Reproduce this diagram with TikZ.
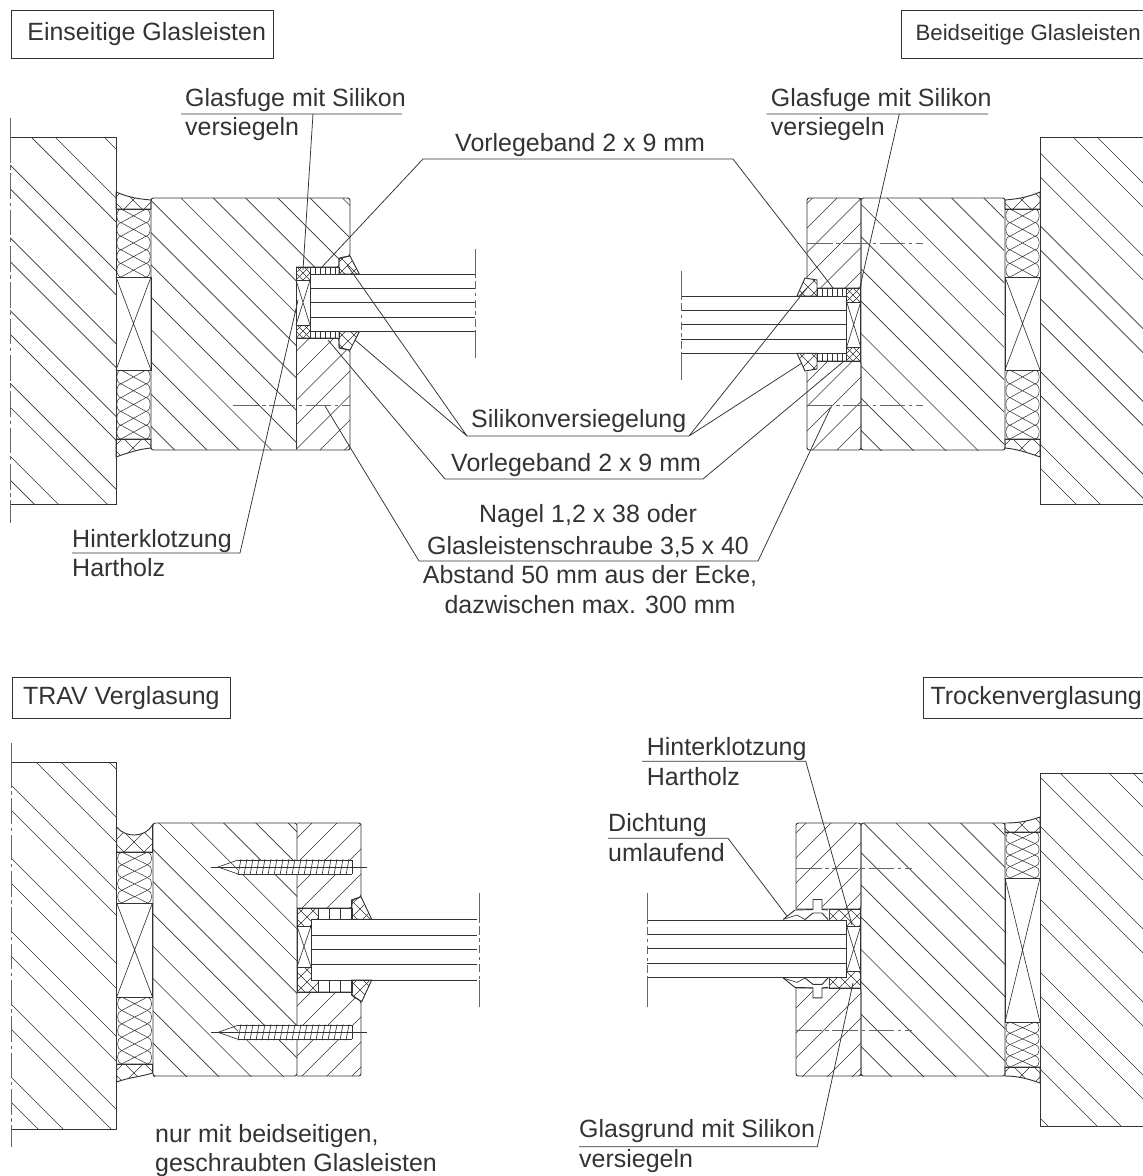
\documentclass[tikz,border=0pt]{standalone}
\usepackage{fontspec}
\setmainfont{Liberation Sans}
\definecolor{inkgray}{HTML}{333333}
\tikzset{
  wood/.style = {line width=0.8pt, draw=inkgray},
  hatchln/.style = {line width=0.55pt, draw=inkgray},
  ropeln/.style = {line width=0.45pt, draw=inkgray},
  axisln/.style = {line width=0.8pt, draw=black!60, dash pattern=on 22pt off 3pt on 3pt off 3pt},
  leader/.style = {line width=0.65pt, draw=inkgray},
  lbl/.style = {anchor=base west, inner sep=0pt, text=inkgray, font=\fontsize{21.3}{24}\selectfont},
  titlebox/.style = {lbl, draw=inkgray, line width=0.8pt, inner xsep=6pt, inner ysep=0pt}
}
% hatching through the point (#2,#3), #4 = distance, clipped by the path #1
\newcommand{\hatchbk}[4]{
  \begin{scope}
    \clip #1;
    \foreach \k in {-25,...,25}
      \draw[hatchln] ({#2-#3+\k*#4},0) -- ++(1300,1300);
  \end{scope}
}
\newcommand{\hatchfw}[4]{
  \begin{scope}
    \clip #1;
    \foreach \k in {-25,...,25}
      \draw[hatchln] ({#2+#3+\k*#4},0) -- ++(-1300,1300);
  \end{scope}
}
\newcommand{\crosspack}[4]{
  \hatchbk{#1}{#2}{#3}{#4}
  \hatchfw{#1}{#2}{#3}{#4}
  \draw[wood] #1;
}
% insulation: x1,x2,y1,y2,number of lobes
\newcommand{\rope}[5]{
  \pgfmathsetmacro{\rh}{(#4-#3)/#5}
  \draw[wood] (#1,#3) -- (#2,#3) (#1,#4) -- (#2,#4);
  \foreach \k in {1,...,#5}{
    \pgfmathsetmacro{\ya}{#3+(\k-1)*\rh}
    \pgfmathsetmacro{\yb}{#3+\k*\rh}
    \draw[ropeln] (#1+5,\ya) .. controls (#1-.5,\ya+.05*\rh) and (#1-.5,\ya+.95*\rh) .. (#1+5,\yb);
    \draw[ropeln] (#2-5,\ya) .. controls (#2+.5,\ya+.05*\rh) and (#2+.5,\ya+.95*\rh) .. (#2-5,\yb);
    \draw[ropeln] (#1+5,\ya) -- (#2-5,\yb) (#2-5,\ya) -- (#1+5,\yb);
  }
}
\newcommand{\xbox}[4]{
  \draw[wood] (#1,#2) rectangle (#3,#4);
  \draw[hatchln] (#1,#2) -- (#3,#4) (#3,#2) -- (#1,#4);
}
\newcommand{\ticks}[5]{
  \draw[wood] (#1,#3) rectangle (#2,#4);
  \foreach \tx in {#5}
    \draw[hatchln] (\tx,#3) -- (\tx,#4);
}
\newcommand{\screw}[1]{
  \fill[white] (238,#1-7) rectangle (352,#1+7);
  \draw[hatchln] (211,#1) -- (367,#1);
  \draw[hatchln] (238,#1-7) -- (218,#1) -- (238,#1+7);
  \draw[hatchln] (238,#1-7) -- (352,#1-7) (238,#1+7) -- (352,#1+7) (352,#1-7) -- (352,#1+7);
  \foreach \tx in {238,244,...,346}
    \draw[hatchln] (\tx,#1+8) -- (\tx+3,#1-8);
}
\begin{document}
\begin{tikzpicture}[x=0.03cm,y=-0.03cm]
	\useasboundingbox (0,0) rectangle (1142,1176);

	% ---- Einseitige Glasleisten ----
	% Frame
	\hatchbk{(10,137) rectangle (116,504)}{116}{149}{72.8}
	\hatchbk{(10,137) rectangle (116,504)}{116}{198}{72.8}
	\draw[wood] (10,137) -- (116,137) -- (116,504) -- (10,504);
	\draw[wood, draw=black!60] (10,118) -- (10,137) (10,504) -- (10,523);
	\draw[axisln] (10,137) -- (10,504);
	% Insulation
	\crosspack{(116,192) .. controls (130,198) and (140,199) .. (151,200) -- (151,209) -- (116,209) -- cycle}{133}{200}{20}
	\crosspack{(116,457) .. controls (130,452) and (140,449) .. (151,448) -- (151,439) -- (116,439) -- cycle}{133}{448}{20}
	\rope{116}{151}{209}{277}{5}
	\rope{116}{151}{370}{439}{5}
	\xbox{116}{277}{151}{370}
	% Sash and bead
	\hatchbk{(151,198) -- (350,198) -- (350,257) -- (339,258) -- (339,267) -- (296,267) -- (296,450) -- (151,450) -- cycle}{200}{217}{32.3}
	\hatchfw{(296,338) -- (339,338) -- (339,348) -- (350,350) -- (350,450) -- (296,450) -- cycle}{296}{376}{24.5}
	\draw[wood, rounded corners=2] (296,267) -- (339,267) -- (339,258) -- (350,256) -- (350,198) -- (151,198) -- (151,450) -- (296,450) -- (350,450) -- (350,350) -- (339,348) -- (339,338) -- (296,338);
	\draw[wood] (296,267) -- (296,449);
	\draw[axisln] (233,405) -- (350,405);
	% Glass
	\foreach \gy in {274,288.3,302.7,317.3,331.7}
		\draw[wood] (310,\gy) -- (475,\gy);
	\draw[wood, draw=black!60] (310,274) -- (310,331.7);
	\draw[wood, draw=black!60] (475,249) -- (475,274) (475,331.7) -- (475,358);
	\draw[wood, draw=black!60, dash pattern=on 3pt off 3pt on 7pt off 3pt] (475,274) -- (475,331.7);
	% Rebate
	\xbox{296}{280}{310}{325}
	\crosspack{(296,267) rectangle (310,280)}{303}{273}{7}
	\crosspack{(296,325) rectangle (310,338)}{303}{331}{7}
	\ticks{310}{339}{267}{274}{315,320,...,335}
	\ticks{310}{339}{331.7}{338}{315,320,...,335}
	\crosspack{(339,258.3) -- (350,256) -- (359.3,274) -- (339,274) -- cycle}{348}{265}{12}
	\crosspack{(339,331.7) -- (359.3,331.7) -- (350,350) -- (339,348) -- cycle}{348}{341}{12}

	% ---- Beidseitige Glasleisten ----
	\hatchbk{(1040,137) rectangle (1145,504)}{1097}{137}{72.8}
	\hatchbk{(1040,137) rectangle (1145,504)}{1073}{137}{72.8}
	\draw[wood] (1145,137) -- (1040,137) -- (1040,504) -- (1145,504);
	\crosspack{(1040,192) .. controls (1026,198) and (1016,199) .. (1005,200) -- (1005,209) -- (1040,209) -- cycle}{1022}{200}{20}
	\crosspack{(1040,457) .. controls (1026,452) and (1016,449) .. (1005,448) -- (1005,439) -- (1040,439) -- cycle}{1022}{448}{20}
	\rope{1005}{1040}{209}{277}{5}
	\rope{1005}{1040}{370}{439}{5}
	\xbox{1005}{277}{1040}{370}
	\hatchbk{(861,198) rectangle (1004,450)}{887}{198}{32.3}
	\hatchfw{(807,198) -- (861,198) -- (861,288) -- (817,288) -- (817,280) -- (807,278) -- cycle}{837}{198}{24.5}
	\hatchfw{(807,372) -- (817,369) -- (817,361) -- (861,361) -- (861,450) -- (807,450) -- cycle}{837}{450}{24.5}
	\draw[wood, rounded corners=2] (807,278) -- (807,198) -- (861,198) -- (861,288) -- (817,288);
	\draw[wood, rounded corners=2] (807,372) -- (807,450) -- (861,450) -- (861,361) -- (817,361);
	\draw[wood, rounded corners=2] (861,198) rectangle (1005,450);
	\draw[axisln] (807,243) -- (923,243);
	\draw[axisln] (807,405) -- (923,405);
	\foreach \gy in {296,310.3,324.7,339,353.3}
		\draw[wood] (681,\gy) -- (846.7,\gy);
	\draw[wood, draw=black!60] (846.7,296) -- (846.7,353.3);
	\draw[wood, draw=black!60] (681,271) -- (681,296) (681,353.3) -- (681,380);
	\draw[wood, draw=black!60, dash pattern=on 3pt off 3pt on 7pt off 3pt] (681,296) -- (681,353.3);
	\xbox{846.7}{302}{860.7}{347}
	\crosspack{(846.7,288) rectangle (860.7,302)}{853}{295}{7}
	\crosspack{(846.7,347) rectangle (860.7,361)}{853}{354}{7}
	\ticks{817}{846.7}{288}{296}{822,827,...,842}
	\ticks{817}{846.7}{353.3}{361}{822,827,...,842}
	\crosspack{(797,296) -- (805,278) -- (817,280) -- (817,296) -- cycle}{808}{287}{12}
	\crosspack{(797,353.3) -- (817,353.3) -- (817,369) -- (805,371) -- cycle}{808}{362}{12}

	% ---- TRAV Verglasung ----
	\hatchbk{(11,762) rectangle (116.7,1129)}{61}{762}{73}
	\hatchbk{(11,762) rectangle (116.7,1129)}{36}{762}{73}
	\draw[wood] (11,762) -- (116.7,762) -- (116.7,1129) -- (11,1129);
	\draw[wood, draw=black!60] (11,743) -- (11,762) (11,1129) -- (11,1147);
	\draw[axisln] (11,762) -- (11,1129);
	\crosspack{(116.7,827) .. controls (125,838) and (145,838) .. (152.5,825) -- (152.5,852) -- (116.7,852) -- cycle}{134}{842}{20}
	\crosspack{(116.7,1082) .. controls (130,1077) and (140,1077) .. (152.5,1073) -- (152.5,1064) -- (116.7,1064) -- cycle}{134}{1073}{20}
	\rope{116.7}{152.5}{852}{903}{4}
	\rope{116.7}{152.5}{997}{1064}{5}
	\xbox{116.7}{903}{152.5}{997}
	\hatchbk{(153,823) rectangle (297,1076)}{159}{823}{32.3}
	\hatchfw{(297,823) -- (361,823) -- (361,897) -- (352,900) -- (352,908) -- (297,908) -- cycle}{297}{838}{25}
	\hatchfw{(297,992) -- (352,992) -- (352,996) -- (361,1001) -- (361,1076) -- (297,1076) -- cycle}{297}{1006}{25}
	\draw[wood, rounded corners=2] (153,823) rectangle (297,1076);
	\draw[wood, rounded corners=2] (297,908) -- (352,908) -- (352,900) -- (361,897) -- (361,823) -- (297,823) (297,1076) -- (361,1076) -- (361,1001) -- (352,996) -- (352,992) -- (297,992);
	\screw{867}
	\screw{1032.3}
	\foreach \gy in {919.3,935.3,949.3,964.3,980}
		\draw[wood] (311,\gy) -- (477,\gy);
	\draw[wood] (311,919.3) -- (311,980);
	\draw[wood, draw=black!60] (479,893) -- (479,919.3) (479,980) -- (479,1007);
	\draw[wood, draw=black!60, dash pattern=on 3pt off 3pt on 7pt off 3pt] (479,919.3) -- (479,980);
	\xbox{297}{926}{311}{967}
	\crosspack{(297,908) -- (318,908) -- (318,919.3) -- (311,919.3) -- (311,926) -- (297,926) -- cycle}{307}{917}{12}
	\crosspack{(297,967) -- (311,967) -- (311,980) -- (318,980) -- (318,992) -- (297,992) -- cycle}{307}{982}{12}
	\ticks{318}{352}{908}{919.3}{329,340}
	\ticks{318}{352}{980}{992}{329,340}
	\crosspack{(351.7,900) -- (361,896.7) -- (371.7,919.3) -- (351.7,919.3) -- cycle}{360}{909}{13}
	\crosspack{(351.7,980) -- (371.7,980) -- (361.7,1001.7) -- (351.7,995) -- cycle}{360}{990}{13}

	% ---- Trockenverglasung ----
	\hatchbk{(1040,773.3) rectangle (1145,1126.7)}{1109.3}{773.3}{73}
	\hatchbk{(1040,773.3) rectangle (1145,1126.7)}{1133.3}{773.3}{73}
	\draw[wood] (1145,773.3) -- (1040,773.3) -- (1040,1126.7) -- (1145,1126.7);
	\crosspack{(1040,817) .. controls (1026,822) and (1016,823) .. (1005,823) -- (1005,832) -- (1040,832) -- cycle}{1022}{825}{20}
	\crosspack{(1040,1083) .. controls (1026,1078) and (1016,1076) .. (1005,1076) -- (1005,1067) -- (1040,1067) -- cycle}{1022}{1075}{20}
	\rope{1005}{1040}{832}{878}{4}
	\rope{1005}{1040}{1022}{1067}{4}
	\xbox{1005}{878}{1040}{1022}
	\hatchbk{(861,823) rectangle (1005,1076)}{896}{823}{32.3}
	\hatchfw{(796,823) -- (861,823) -- (861,909) -- (796,909) -- cycle}{796}{833}{25}
	\hatchfw{(796,988) -- (861,988) -- (861,1076) -- (796,1076) -- cycle}{796}{1033}{25}
	\draw[wood, rounded corners=2] (796,909) -- (796,823) -- (861,823) -- (861,909) -- (796,909);
	\draw[wood, rounded corners=2] (796,988) -- (796,1076) -- (861,1076) -- (861,988) -- (796,988);
	\draw[wood, rounded corners=2] (861,823) rectangle (1005,1076);
	\draw[axisln] (796,868) -- (912,868);
	\draw[axisln] (796,1030) -- (912,1030);
	\foreach \gy in {920,934.3,948.7,963.3,977.7}
		\draw[wood] (647.3,\gy) -- (846.7,\gy);
	\draw[wood] (846.7,920) -- (846.7,977.7);
	\draw[wood, draw=black!60] (647.3,893) -- (647.3,920) (647.3,977.7) -- (647.3,1007);
	\draw[wood, draw=black!60, dash pattern=on 3pt off 3pt on 7pt off 3pt] (647.3,920) -- (647.3,977.7);
	\xbox{846.7}{926}{860.7}{971.7}
	\crosspack{(829,909) -- (860.7,909) -- (860.7,926) -- (846.7,926) -- (846.7,920) -- (829,920) -- cycle}{845}{916}{12}
	\crosspack{(829,988) -- (860.7,988) -- (860.7,971.7) -- (846.7,971.7) -- (846.7,977.7) -- (829,977.7) -- cycle}{845}{982}{12}
	% Gasket
	\fill[white] (783.3,920) -- (795,910) -- (829,910) -- (829,920) -- cycle;
	\fill[white] (783.3,977.7) -- (795,987.4) -- (829,987.4) -- (829,977.7) -- cycle;
	\fill[white] (813,899.5) rectangle (822,910);
	\fill[white] (813,987.4) rectangle (822,997.9);
	\draw[wood] (783.3,919.3) -- (795,910) -- (813,909.5) -- (813,899.5) -- (822,899.5) -- (822,909.5) -- (828,910);
	\draw[wood] (805,919.5) -- (813,913) -- (822,913) -- (828,919.5);
	\draw[hatchln] (783.3,919.3) -- (797,915) -- (805,919.5);
	\draw[wood] (783.3,978.1) -- (795,987.4) -- (813,987.9) -- (813,997.9) -- (822,997.9) -- (822,987.9) -- (828,987.4);
	\draw[wood] (805,977.9) -- (813,984.4) -- (822,984.4) -- (828,977.9);
	\draw[hatchln] (783.3,978.1) -- (797,982.4) -- (805,977.9);
	\foreach \gy in {920,977.7}
		\draw[wood] (783.3,\gy) -- (846.7,\gy);

	% ---- Labels ----
	\node[titlebox, minimum height=1.44cm] (einseitig) at (11,40.7) {\hspace*{7.6pt}Einseitige Glasleisten};
	\node[titlebox, minimum height=1.44cm, inner xsep=12pt, minimum width=9cm, font=\fontsize{19}{22}\selectfont, align=left] (beidseitig) at (901,40.7) {Beidseitige Glasleisten\hspace*{2cm}};
	\node[titlebox, minimum height=1.23cm, inner xsep=9pt] (trav) at (12,704.5) {TRAV Verglasung};
	\node[titlebox, minimum height=1.23cm, inner xsep=6pt] (trocken) at (923,704.5) {Trockenverglasung};

	\node[lbl] (fuge1) at (185,106.7) {Glasfuge mit Silikon};
	\node[lbl] (fuge1b) at (185,135) {versiegeln};
	\node[lbl] (fuge2) at (770.7,106.7) {Glasfuge mit Silikon};
	\node[lbl] (fuge2b) at (770.7,135) {versiegeln};
	\node[lbl] (band1) at (455,151.7) {Vorlegeband 2 x 9 mm};
	\node[lbl] (silikon) at (471,427) {Silikonversiegelung};
	\node[lbl] (band2) at (451,471.7) {Vorlegeband 2 x 9 mm};
	\node[lbl, anchor=base] (nagel) at (588,522.7) {Nagel 1,2 x 38 oder};
	\node[lbl, anchor=base] (schraube) at (588,554) {Glasleistenschraube 3,5 x 40};
	\node[lbl, anchor=base] (abstand) at (590,583) {Abstand 50 mm aus der Ecke,};
	\node[lbl, anchor=base] (dazwischen) at (590,613) {dazwischen max. 300 mm};
	\node[lbl] (klotz1) at (72,547) {Hinterklotzung};
	\node[lbl] (holz1) at (72,576.7) {Hartholz};
	\node[lbl] (nur) at (155,1142.7) {nur mit beidseitigen,};
	\node[lbl] (geschr) at (155,1171.7) {geschraubten Glasleisten};
	\node[lbl] (klotz2) at (646.7,755) {Hinterklotzung};
	\node[lbl] (holz2) at (646.7,785) {Hartholz};
	\node[lbl] (dicht) at (608,831.7) {Dichtung};
	\node[lbl] (umlauf) at (608,861.7) {umlaufend};
	\node[lbl] (grund) at (579,1137.7) {Glasgrund mit Silikon};
	\node[lbl] (grundb) at (579,1167) {versiegeln};

	% Leaders
	\coordinate (a1) at (181,114);
	\coordinate (a2) at (402,114);
	\coordinate (a3) at (313,114);
	\coordinate (a4) at (303,270);
	\draw[leader] (a1) -- (a2) (a3) -- (a4);
	\coordinate (b1) at (766.7,114);
	\coordinate (b2) at (988,114);
	\coordinate (b3) at (899.3,114);
	\coordinate (b4) at (860,287);
	\draw[leader] (b1) -- (b2) (b3) -- (b4);
	\coordinate (c1) at (321,268);
	\coordinate (c2) at (423,159);
	\coordinate (c3) at (733,159);
	\coordinate (c4) at (833,288);
	\draw[leader] (c1) -- (c2) -- (c3) -- (c4);
	\coordinate (d1) at (347,265);
	\coordinate (d2) at (467,436);
	\coordinate (d3) at (355,340);
	\coordinate (d4) at (689,436);
	\coordinate (d5) at (807,288);
	\coordinate (d6) at (802,363);
	\draw[leader] (d1) -- (d2) -- (d4) -- (d5) (d3) -- (d2) (d4) -- (d6);
	\coordinate (e1) at (328,340);
	\coordinate (e2) at (445,479);
	\coordinate (e3) at (703,479);
	\coordinate (e4) at (843,362);
	\draw[leader] (e1) -- (e2) -- (e3) -- (e4);
	\coordinate (f1) at (325,406);
	\coordinate (f2) at (419,561);
	\coordinate (f3) at (758,561);
	\coordinate (f4) at (831,407);
	\draw[leader] (f1) -- (f2) -- (f3) -- (f4);
	\coordinate (g1) at (72,553);
	\coordinate (g2) at (240,553);
	\coordinate (g3) at (298,300);
	\draw[leader] (g1) -- (g2) -- (g3);
	\coordinate (h1) at (642,761.3);
	\coordinate (h2) at (805.7,761.3);
	\coordinate (h3) at (852,925);
	\draw[leader] (h1) -- (h2) -- (h3);
	\coordinate (i1) at (608,838.3);
	\coordinate (i2) at (728,838.3);
	\coordinate (i3) at (786.7,915.7);
	\draw[leader] (i1) -- (i2) -- (i3);
	\coordinate (j1) at (579,1146.7);
	\coordinate (j2) at (817.3,1146.7);
	\coordinate (j3) at (853,983);
	\draw[leader] (j1) -- (j2) -- (j3);
\end{tikzpicture}
\end{document}
